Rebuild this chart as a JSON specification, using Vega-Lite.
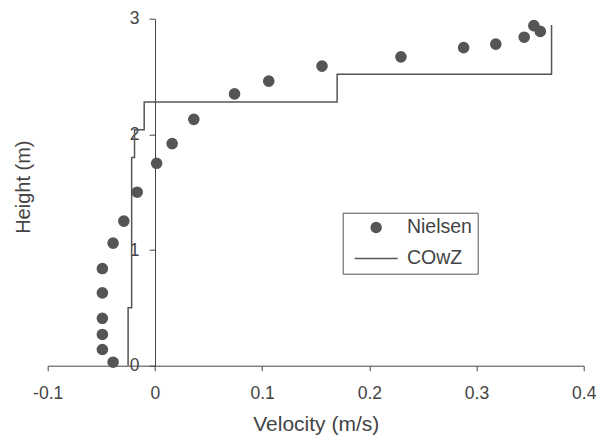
{
  "$schema": "https://vega.github.io/schema/vega-lite/v6.json",
  "width": 536,
  "height": 347,
  "autosize": {"type": "none"},
  "padding": {"left": 47.7, "top": 18.7, "right": 16.3, "bottom": 69.3},
  "background": "white",
  "config": {"view": {"stroke": null}, "font": "Liberation Sans"},
  "datasets": {
    "nielsen": [
      {"v": -0.039, "h": 0.03, "series": "Nielsen"},
      {"v": -0.049, "h": 0.14, "series": "Nielsen"},
      {"v": -0.049, "h": 0.27, "series": "Nielsen"},
      {"v": -0.049, "h": 0.41, "series": "Nielsen"},
      {"v": -0.049, "h": 0.63, "series": "Nielsen"},
      {"v": -0.049, "h": 0.84, "series": "Nielsen"},
      {"v": -0.039, "h": 1.06, "series": "Nielsen"},
      {"v": -0.029, "h": 1.25, "series": "Nielsen"},
      {"v": -0.0165, "h": 1.50, "series": "Nielsen"},
      {"v": 0.0016, "h": 1.75, "series": "Nielsen"},
      {"v": 0.0161, "h": 1.92, "series": "Nielsen"},
      {"v": 0.0363, "h": 2.13, "series": "Nielsen"},
      {"v": 0.0743, "h": 2.35, "series": "Nielsen"},
      {"v": 0.1062, "h": 2.46, "series": "Nielsen"},
      {"v": 0.1559, "h": 2.59, "series": "Nielsen"},
      {"v": 0.2295, "h": 2.67, "series": "Nielsen"},
      {"v": 0.288, "h": 2.75, "series": "Nielsen"},
      {"v": 0.318, "h": 2.78, "series": "Nielsen"},
      {"v": 0.3445, "h": 2.84, "series": "Nielsen"},
      {"v": 0.3535, "h": 2.94, "series": "Nielsen"},
      {"v": 0.3595, "h": 2.89, "series": "Nielsen"}
    ],
    "cowz": [
      {"i": 1, "v": -0.025, "h": 0.0, "series": "COwZ"},
      {"i": 2, "v": -0.025, "h": 0.50, "series": "COwZ"},
      {"i": 3, "v": -0.0217, "h": 0.50, "series": "COwZ"},
      {"i": 4, "v": -0.0217, "h": 1.80, "series": "COwZ"},
      {"i": 5, "v": -0.019, "h": 1.80, "series": "COwZ"},
      {"i": 6, "v": -0.019, "h": 2.04, "series": "COwZ"},
      {"i": 7, "v": -0.010, "h": 2.04, "series": "COwZ"},
      {"i": 8, "v": -0.010, "h": 2.28, "series": "COwZ"},
      {"i": 9, "v": 0.170, "h": 2.28, "series": "COwZ"},
      {"i": 10, "v": 0.170, "h": 2.52, "series": "COwZ"},
      {"i": 11, "v": 0.370, "h": 2.52, "series": "COwZ"},
      {"i": 12, "v": 0.370, "h": 2.945, "series": "COwZ"}
    ]
  },
  "encoding": {
    "x": {
      "field": "v", "type": "quantitative",
      "scale": {"domain": [-0.1, 0.4], "nice": false, "zero": false},
      "axis": {
        "values": [-0.1, 0, 0.1, 0.2, 0.3, 0.4],
        "labelExpr": "'' + datum.value",
        "labelFlush": false,
        "grid": false,
        "title": "Velocity (m/s)",
        "domainColor": "#444", "tickColor": "#444", "tickSize": 5,
        "labelFontSize": 17.5, "labelColor": "#444", "labelPadding": 14,
        "labelFont": "Liberation Sans",
        "titleFontSize": 21, "titleFontWeight": "normal", "titleColor": "#444",
        "titleFont": "Liberation Sans",
        "titleBaseline": "top", "titleY": 47.5
      }
    },
    "y": {
      "field": "h", "type": "quantitative",
      "scale": {"domain": [0, 3], "nice": false},
      "axis": {
        "values": [0, 1, 2, 3],
        "labelFlush": false,
        "grid": false,
        "offset": -107.3,
        "title": "Height (m)",
        "domainColor": "#444", "tickColor": "#444", "tickSize": 6,
        "labelFontSize": 17.5, "labelColor": "#444", "labelPadding": 10,
        "labelFont": "Liberation Sans",
        "titleFontSize": 20, "titleFontWeight": "normal", "titleColor": "#444",
        "titleFont": "Liberation Sans",
        "titleBaseline": "middle", "titleX": -132, "titleY": 168, "titleAlign": "center", "titleAngle": -90
      }
    },
    "color": {
      "field": "series", "type": "nominal",
      "scale": {"domain": ["Nielsen", "COwZ"], "range": ["#555555", "#555555"]},
      "legend": {
        "title": null,
        "orient": "none",
        "legendX": 295,
        "legendY": 194,
        "strokeColor": "#555",
        "fillColor": "white",
        "padding": 5,
        "symbolSize": 113,
        "symbolOffset": 18.7,
        "labelOffset": 21,
        "rowPadding": 10,
        "labelFontSize": 19.5,
        "labelColor": "#444",
        "labelFont": "Liberation Sans",
        "encode": {
          "symbols": {
            "update": {
              "shape": {"signal": "datum.value === 'COwZ' ? 'stroke' : 'circle'"},
              "size": {"signal": "datum.value === 'COwZ' ? 1849 : 130"},
              "fill": {"signal": "datum.value === 'COwZ' ? 'transparent' : '#555555'"},
              "stroke": {"value": "#555555"},
              "strokeWidth": {"signal": "datum.value === 'COwZ' ? 1.5 : 0"},
              "opacity": {"value": 1}
            }
          }
        }
      }
    }
  },
  "layer": [
    {
      "data": {"name": "cowz"},
      "mark": {"type": "line", "strokeWidth": 1.5},
      "encoding": {"order": {"field": "i", "type": "quantitative"}}
    },
    {
      "data": {"name": "nielsen"},
      "mark": {"type": "point", "filled": true, "size": 135, "opacity": 1}
    }
  ]
}
